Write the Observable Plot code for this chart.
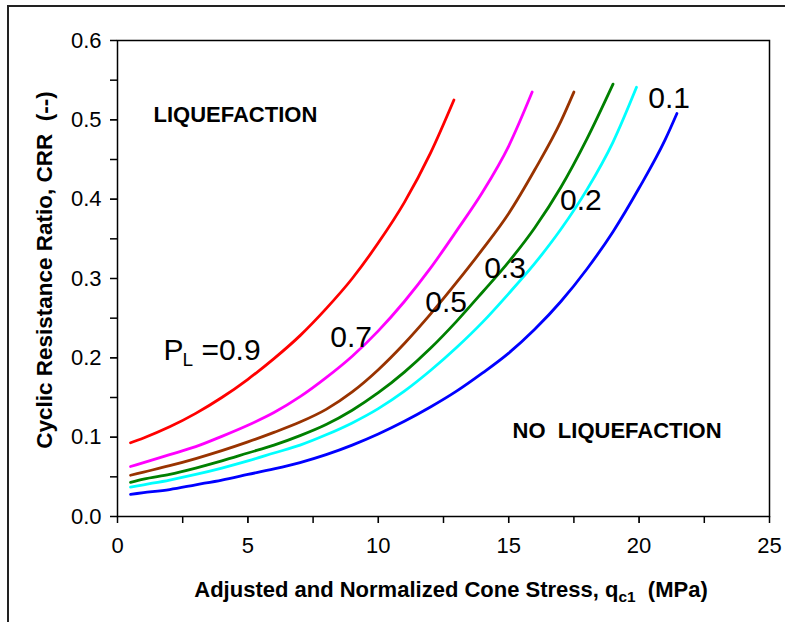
<!DOCTYPE html>
<html><head><meta charset="utf-8">
<script src="https://cdn.jsdelivr.net/npm/d3@7"></script>
<script src="https://cdn.jsdelivr.net/npm/@observablehq/plot@0.6"></script>
<style>
body{margin:0;background:#fff;font-family:"Liberation Sans",Arial,sans-serif;}
#wrap{position:relative;width:785px;height:622px;overflow:hidden;background:#fff;}
#border{position:absolute;left:7px;top:5px;width:900px;height:900px;border-top:2px solid #222;border-left:2px solid #222;}
#chart{position:absolute;left:0;top:0;}
#xtitle{position:absolute;left:451px;top:590px;transform:translate(-50%,-50%);white-space:nowrap;font-weight:bold;font-size:22px;}
#ytitle{position:absolute;left:45px;top:270px;transform:translate(-50%,-50%) rotate(-90deg);white-space:nowrap;font-weight:bold;font-size:22.5px;}
sub{font-size:0.7em;vertical-align:-0.3em;line-height:0;}
</style>
</head><body>
<div id="wrap">
<div id="border"></div>
<div id="chart"></div>
<div id="xtitle">Adjusted and Normalized Cone Stress, q<sub>c1</sub>&nbsp; (MPa)</div>
<div id="ytitle">Cyclic Resistance Ratio, CRR&nbsp; (--)</div>
</div>
<script>
// Probability of liquefaction curves (P_L)
const probabilities = ["0.9", "0.7", "0.5", "0.3", "0.2", "0.1"];

const qc_09  = [0.5, 1, 2, 3, 4, 5, 6, 7, 8, 9, 10, 11, 12, 12.9];
const crr_09 = [0.093, 0.099, 0.113, 0.130, 0.150, 0.173, 0.199, 0.228, 0.262, 0.300, 0.345, 0.396, 0.458, 0.525];

const qc_07  = [0.5, 1, 2, 3, 4, 5, 6, 7, 8, 9, 10, 11, 12, 13, 14, 15, 15.9];
const crr_07 = [0.063, 0.068, 0.078, 0.088, 0.101, 0.115, 0.131, 0.151, 0.175, 0.202, 0.234, 0.271, 0.313, 0.360, 0.409, 0.467, 0.535];

const qc_05  = [0.5, 1, 2, 3, 4, 5, 6, 7, 8, 9, 10, 11, 12, 13, 14, 15, 16, 17, 17.5];
const crr_05 = [0.052, 0.056, 0.064, 0.073, 0.083, 0.094, 0.106, 0.119, 0.135, 0.157, 0.185, 0.218, 0.255, 0.295, 0.337, 0.382, 0.437, 0.498, 0.535];

const qc_03  = [0.5, 1, 2, 3, 4, 5, 6, 7, 8, 9, 10, 11, 12, 13, 14, 15, 16, 17, 18, 19];
const crr_03 = [0.043, 0.047, 0.053, 0.061, 0.070, 0.080, 0.090, 0.102, 0.116, 0.134, 0.156, 0.182, 0.212, 0.246, 0.283, 0.321, 0.364, 0.415, 0.476, 0.545];

const qc_02  = [0.5, 1, 2, 3, 4, 5, 6, 7, 8, 9, 10, 11, 12, 13, 14, 15, 16, 17, 18, 19, 19.9];
const crr_02 = [0.037, 0.040, 0.046, 0.053, 0.061, 0.070, 0.080, 0.090, 0.103, 0.118, 0.136, 0.158, 0.184, 0.213, 0.245, 0.281, 0.319, 0.362, 0.412, 0.472, 0.541];

const qc_01  = [0.5, 1, 2, 3, 4, 5, 6, 7, 8, 9, 10, 11, 12, 13, 14, 15, 16, 17, 18, 19, 20, 21, 21.45];
const crr_01 = [0.028, 0.030, 0.034, 0.040, 0.046, 0.053, 0.060, 0.068, 0.078, 0.090, 0.104, 0.120, 0.138, 0.158, 0.181, 0.206, 0.236, 0.271, 0.312, 0.359, 0.414, 0.475, 0.508];

const xTicks = [0, 5, 10, 15, 20, 25];
const yTicks = [0, 0.1, 0.2, 0.3, 0.4, 0.5, 0.6];

// Styles (kept apart from data)
const colors = {"0.9": "#FF0000", "0.7": "#FF00FF", "0.5": "#993300", "0.3": "#008000", "0.2": "#00FFFF", "0.1": "#0000FF"};

// Annotations (data coordinates)
const regionLabels = [
  {x: 1.38, y: 0.506, text: "LIQUEFACTION"},
  {x: 15.15, y: 0.108, text: "NO  LIQUEFACTION"}
];
const curveLabels = [
  {x: 20.35, y: 0.527, text: "0.1"},
  {x: 16.97, y: 0.398, text: "0.2"},
  {x: 14.06, y: 0.313, text: "0.3"},
  {x: 11.8, y: 0.270, text: "0.5"},
  {x: 8.16, y: 0.226, text: "0.7"}
];
const plLabel = {x: 1.76, y: 0.209};

const seriesX = [qc_09, qc_07, qc_05, qc_03, qc_02, qc_01];
const seriesY = [crr_09, crr_07, crr_05, crr_03, crr_02, crr_01];
const rows = probabilities.flatMap((p, i) => seriesX[i].map((q, j) => ({p, q, crr: seriesY[i][j]})));

const minorX = d3.range(0, 25.001, 2.5);
const minorY = d3.range(0, 0.6001, 0.05);

const chart = Plot.plot({
  width: 785, height: 622,
  marginLeft: 117, marginRight: 16, marginTop: 40, marginBottom: 106,
  x: {domain: [0, 25], label: null},
  y: {domain: [0, 0.6], label: null},
  style: {fontFamily: "'Liberation Sans', Arial, sans-serif", fontSize: "22px", color: "#000", background: "transparent", overflow: "visible"},
  marks: [
    Plot.axisX({ticks: minorX, tickFormat: () => "", tickSize: 7, label: null, stroke: "#000", strokeWidth: 1.5}),
    Plot.axisX({ticks: xTicks, tickFormat: d => String(d), tickSize: 7, tickPadding: 14, label: null, fontSize: 22}),
    Plot.axisY({ticks: minorY, tickFormat: () => "", tickSize: 7, label: null, strokeWidth: 1.5}),
    Plot.axisY({ticks: yTicks, tickFormat: d => d.toFixed(1), tickSize: 7, tickPadding: 9, label: null, fontSize: 22}),
    Plot.line(rows, {x: "q", y: "crr", z: "p", stroke: d => colors[d.p], strokeWidth: 2.8, curve: "monotone-x"}),
    Plot.frame({stroke: "#000", strokeWidth: 1.5}),
    Plot.text(regionLabels, {x: "x", y: "y", text: "text", textAnchor: "start", fontSize: 22, fontWeight: "bold", fill: "#000"}),
    Plot.text(curveLabels, {x: "x", y: "y", text: "text", textAnchor: "start", fontSize: 30, fill: "#000"}),
    Plot.text([plLabel], {x: "x", y: "y", text: () => "P", textAnchor: "start", fontSize: 30, fill: "#000"}),
    Plot.text([plLabel], {x: "x", y: "y", text: () => "L", textAnchor: "start", fontSize: 19, dx: 19, dy: 9, fill: "#000"}),
    Plot.text([plLabel], {x: "x", y: "y", text: () => "=0.9", textAnchor: "start", fontSize: 30, dx: 38, fill: "#000"})
  ]
});
document.getElementById("chart").appendChild(chart);
</script>
</body></html>
